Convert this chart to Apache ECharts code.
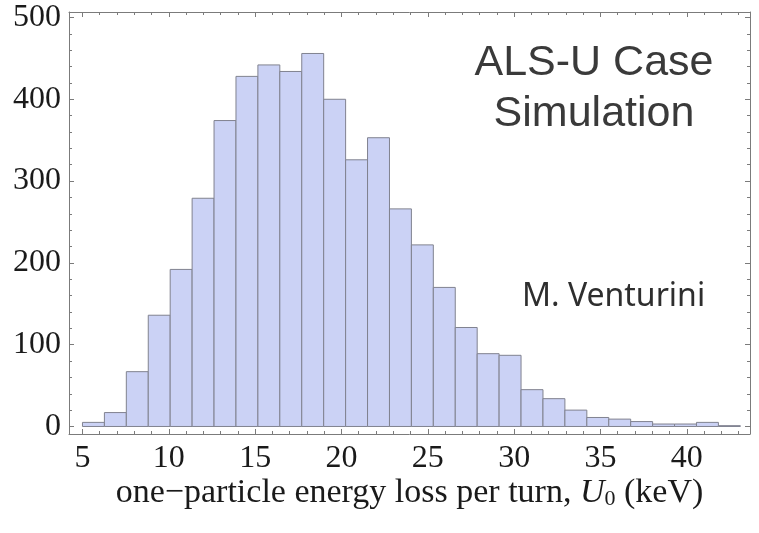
<!DOCTYPE html>
<html>
<head>
<meta charset="utf-8">
<title>One-particle energy loss per turn</title>
<script src="https://cdn.jsdelivr.net/npm/echarts@6/dist/echarts.min.js"></script>
<style>
  html, body { margin: 0; padding: 0; background: #ffffff; }
  #chart { width: 759px; height: 533px; }
</style>
</head>
<body>
<div id="chart"></div>
<script>
// Histogram bin edges (keV) and counts per bin
const binEdges = [5.00, 6.27, 7.54, 8.81, 10.08, 11.35, 12.62, 13.89, 15.16, 16.43,
                  17.70, 18.97, 20.24, 21.51, 22.78, 24.05, 25.32, 26.59, 27.86, 29.13,
                  30.40, 31.67, 32.94, 34.21, 35.48, 36.75, 38.02, 39.29, 40.56, 41.83, 43.10];
const counts = [5, 17, 67, 136, 192, 279, 374, 428, 442, 434,
                456, 400, 326, 353, 266, 222, 170, 121, 89, 87,
                45, 34, 20, 11, 9, 6, 3, 3, 5, 1];

// Tick positions
const xMajorTicks = [5, 10, 15, 20, 25, 30, 35, 40];
const xMinorTicks = [5, 6, 7, 8, 9, 10, 11, 12, 13, 14, 15, 16, 17, 18, 19, 20, 21, 22, 23, 24,
                     25, 26, 27, 28, 29, 30, 31, 32, 33, 34, 35, 36, 37, 38, 39, 40, 41, 42, 43];
const yMajorTicks = [0, 100, 200, 300, 400, 500];
const yMinorTicks = [0, 20, 40, 60, 80, 100, 120, 140, 160, 180, 200, 220, 240, 260, 280, 300,
                     320, 340, 360, 380, 400, 420, 440, 460, 480, 500];

// Plot range (frame edges)
const xRange = [4.22, 43.66];
const yRange = [-9.2, 506.7];

const frameColor = '#7b7b7b';
const labelFont = '"Liberation Serif", "DejaVu Serif", serif';
const tickFontSize = 32;
const titleFontSize = 34;

const bins = counts.map((c, i) => [binEdges[i], binEdges[i + 1], c]);

function xAxisDef(position, ticks, len, showLine, showLabels, name) {
  return {
    type: 'value', gridIndex: 0, position: position,
    min: xRange[0], max: xRange[1],
    axisLine: { show: showLine, onZero: false, lineStyle: { color: frameColor, width: 1 } },
    axisTick: { show: true, inside: true, length: len, customValues: ticks,
                lineStyle: { color: frameColor, width: 1 } },
    axisLabel: showLabels ? {
      show: true, customValues: ticks, margin: 9,
      fontFamily: labelFont, fontSize: tickFontSize, color: '#1a1a1a'
    } : { show: false },
    splitLine: { show: false },
    name: name || '',
    nameLocation: 'middle',
    nameGap: 42,
    nameMoveOverlap: false,
    nameTextStyle: {
      fontFamily: labelFont, fontSize: titleFontSize, color: '#1a1a1a',
      rich: {
        it: { fontFamily: labelFont, fontSize: titleFontSize, fontStyle: 'italic', color: '#1a1a1a' },
        sub: { fontFamily: labelFont, fontSize: 22, color: '#1a1a1a', verticalAlign: 'bottom', padding: [12, 0, 0, 0] }
      }
    }
  };
}

function yAxisDef(position, ticks, len, showLine, showLabels) {
  return {
    type: 'value', gridIndex: 0, position: position,
    min: yRange[0], max: yRange[1],
    axisLine: { show: showLine, onZero: false, lineStyle: { color: frameColor, width: 1 } },
    axisTick: { show: true, inside: true, length: len, customValues: ticks,
                lineStyle: { color: frameColor, width: 1 } },
    axisLabel: showLabels ? {
      show: true, customValues: ticks, margin: 8,
      fontFamily: labelFont, fontSize: tickFontSize, color: '#1a1a1a'
    } : { show: false },
    splitLine: { show: false }
  };
}

const chart = echarts.init(document.getElementById('chart'), null, { renderer: 'canvas' });

chart.setOption({
  animation: false,
  backgroundColor: '#ffffff',
  grid: { left: 69, right: 9, top: 12, bottom: 99, containLabel: false },
  xAxis: [
    xAxisDef('bottom', xMajorTicks, 5, true, true,
             'one\u2212particle energy loss per turn, {it|U}{sub|0} (keV)'),
    xAxisDef('bottom', xMinorTicks, 3, false, false),
    xAxisDef('top', xMajorTicks, 5, true, false),
    xAxisDef('top', xMinorTicks, 3, false, false)
  ],
  yAxis: [
    yAxisDef('left', yMajorTicks, 5, true, true),
    yAxisDef('left', yMinorTicks, 3, false, false),
    yAxisDef('right', yMajorTicks, 5, true, false),
    yAxisDef('right', yMinorTicks, 3, false, false)
  ],
  series: [{
    type: 'custom',
    xAxisIndex: 0,
    yAxisIndex: 0,
    data: bins,
    encode: { x: [0, 1], y: 2 },
    renderItem: function (params, api) {
      const p0 = api.coord([api.value(0), 0]);
      const p1 = api.coord([api.value(1), api.value(2)]);
      return {
        type: 'rect',
        shape: { x: p0[0], y: p1[1], width: p1[0] - p0[0], height: p0[1] - p1[1] },
        style: { fill: '#cbd2f5', stroke: '#80828f', lineWidth: 1 }
      };
    }
  }],
  graphic: [
    {
      type: 'text',
      x: 594, y: 38,
      style: {
        text: 'ALS-U Case\nSimulation',
        fontFamily: '"Liberation Sans", Arial, sans-serif',
        fontSize: 43, lineHeight: 51,
        fill: '#3a3a3a', align: 'center', verticalAlign: 'top'
      }
    },
    {
      type: 'text',
      x: 522, y: 281,
      style: {
        text: 'M. Venturini',
        fontFamily: '"Noto Sans", "Open Sans", sans-serif',
        fontSize: 32, fill: '#2e2e2e', verticalAlign: 'top'
      }
    }
  ]
});
</script>
</body>
</html>
